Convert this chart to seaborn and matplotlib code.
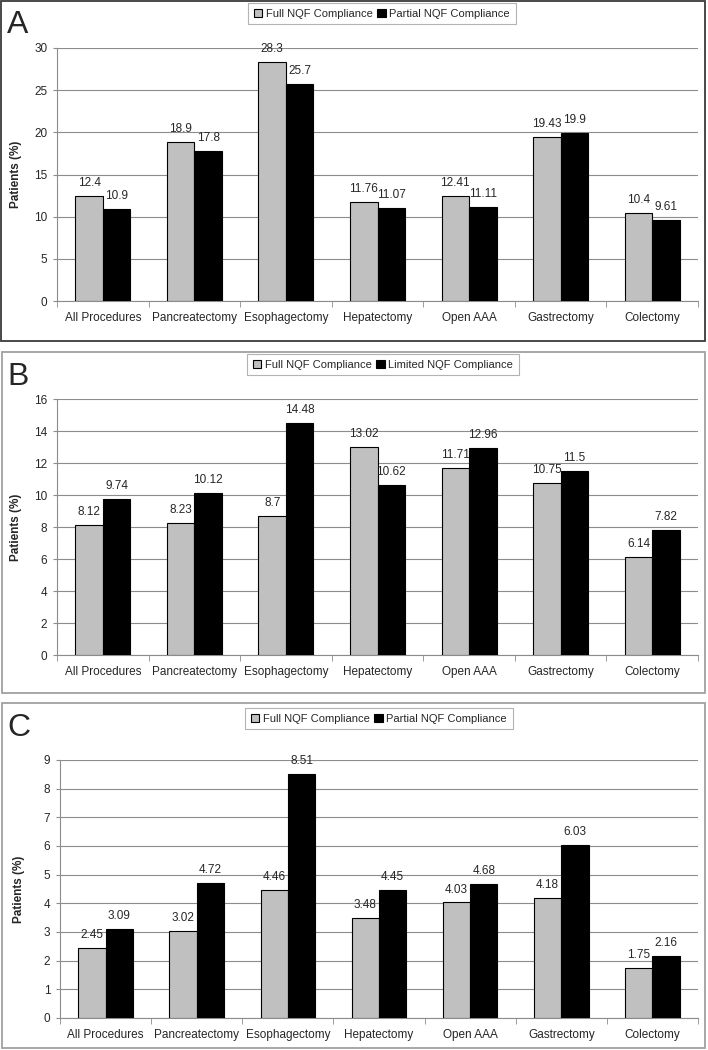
import matplotlib
matplotlib.use('Agg')
import matplotlib.pyplot as plt
from matplotlib.patches import Rectangle
from matplotlib.ticker import MultipleLocator, FixedLocator
import seaborn as sns
import pandas as pd

procedures = ['All Procedures', 'Pancreatectomy', 'Esophagectomy', 'Hepatectomy',
              'Open AAA', 'Gastrectomy', 'Colectomy']

# Panel A
a_full = [12.4, 18.9, 28.3, 11.76, 12.41, 19.43, 10.4]
a_partial = [10.9, 17.8, 25.7, 11.07, 11.11, 19.9, 9.61]
# Panel B
b_full = [8.12, 8.23, 8.7, 13.02, 11.71, 10.75, 6.14]
b_limited = [9.74, 10.12, 14.48, 10.62, 12.96, 11.5, 7.82]
# Panel C
c_full = [2.45, 3.02, 4.46, 3.48, 4.03, 4.18, 1.75]
c_partial = [3.09, 4.72, 8.51, 4.45, 4.68, 6.03, 2.16]

sns.set_style('white')
plt.rcParams['font.family'] = ['Liberation Sans', 'DejaVu Sans']

W, H = 708, 1050
fig = plt.figure(figsize=(W / 100, H / 100), dpi=100)


def px_rect(x0, y0, x1, y1):
    # convert pixel box (top-left origin) to figure fraction
    return [x0 / W, 1 - y1 / H, (x1 - x0) / W, (y1 - y0) / H]


panels = [
    dict(letter='A', full=a_full, other=a_partial, other_name='Partial NQF Compliance',
         ymax=30, step=5, ax=(57, 48, 698, 301), frame=(1, 1, 705, 341), fcol='#3a3a3a',
         letter_y=10, legend=(248, 3)),
    dict(letter='B', full=b_full, other=b_limited, other_name='Limited NQF Compliance',
         ymax=16, step=2, ax=(57, 399, 698, 655), frame=(2, 352, 705, 693), fcol='#a0a0a0',
         letter_y=362, legend=(247, 354)),
    dict(letter='C', full=c_full, other=c_partial, other_name='Partial NQF Compliance',
         ymax=9, step=1, ax=(60, 760, 698, 1018), frame=(2, 703, 705, 1048), fcol='#a0a0a0',
         letter_y=713, legend=(245, 708)),
]

for p in panels:
    x0, y0, x1, y1 = p['frame']
    fig.patches.append(Rectangle((x0 / W, 1 - y1 / H), (x1 - x0) / W, (y1 - y0) / H,
                                 transform=fig.transFigure, fill=False,
                                 edgecolor=p['fcol'], linewidth=1.3))
    fig.text(7 / W, 1 - p['letter_y'] / H, p['letter'], fontsize=23, va='top', ha='left')

    df = pd.DataFrame({
        'Procedure': procedures * 2,
        'Value': p['full'] + p['other'],
        'Group': ['Full NQF Compliance'] * 7 + [p['other_name']] * 7,
    })

    ax = fig.add_axes(px_rect(*p['ax']))
    sns.barplot(data=df, x='Procedure', y='Value', hue='Group',
                palette=['#c0c0c0', '#000000'], width=0.6, gap=0,
                edgecolor='black', linewidth=0.8, ax=ax, zorder=3)

    for cont in ax.containers:
        ax.bar_label(cont, fmt='{:g}', padding=5, fontsize=8.5)

    ax.set_ylim(0, p['ymax'])
    ax.set_xlim(-0.5, 6.5)
    ax.yaxis.set_major_locator(MultipleLocator(p['step']))
    ax.grid(axis='y', color='#8c8c8c', linewidth=0.8, zorder=0)
    ax.set_axisbelow(True)
    for s in ['top', 'right']:
        ax.spines[s].set_visible(False)
    ax.spines['left'].set_color('#8c8c8c')
    ax.spines['bottom'].set_color('#8c8c8c')
    ax.tick_params(axis='y', length=3, color='#8c8c8c', labelsize=8.5, pad=4, left=True)
    ax.tick_params(axis='x', which='major', length=0, labelsize=8.5, pad=8)
    ax.xaxis.set_minor_locator(FixedLocator([i - 0.5 for i in range(8)]))
    ax.tick_params(axis='x', which='minor', length=4, color='#8c8c8c', bottom=True)
    ax.set_xlabel('')
    ax.set_ylabel('Patients (%)', fontsize=8.5, fontweight='bold')
    ax.yaxis.set_label_coords(-0.055, 0.5)

    handles, labels = ax.get_legend_handles_labels()
    ax.get_legend().remove()
    lx, ly = p['legend']
    leg = fig.legend(handles, labels, loc='upper left', bbox_to_anchor=(lx / W, 1 - ly / H),
                     ncol=2, fontsize=8, frameon=True, fancybox=False, shadow=False,
                     handlelength=0.8, handleheight=0.8, handletextpad=0.3,
                     columnspacing=0.4, borderpad=0.5, borderaxespad=0)
    leg.get_frame().set_edgecolor('#a0a0a0')
    leg.get_frame().set_linewidth(0.8)

fig.savefig('out.png', dpi=100)
